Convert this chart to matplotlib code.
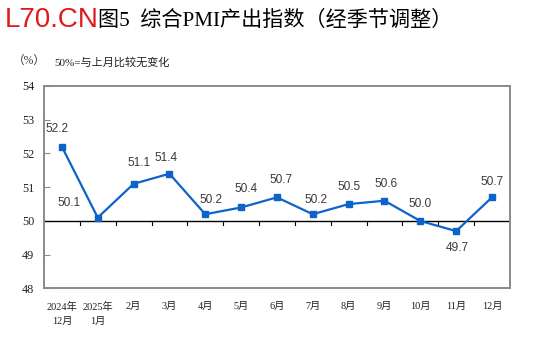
import matplotlib
matplotlib.use("Agg")
import matplotlib.pyplot as plt
import numpy as np

# Composite PMI output index, seasonally adjusted
months = ["2024年\n12月", "2025年\n1月", "2月", "3月", "4月", "5月", "6月",
          "7月", "8月", "9月", "10月", "11月", "12月"]
values = [52.2, 50.1, 51.1, 51.4, 50.2, 50.4, 50.7, 50.2, 50.5, 50.6, 50.0, 49.7, 50.7]
y_ticks = [48, 49, 50, 51, 52, 53, 54]

# label offsets in pixels relative to each point (dx, dy)
label_offsets = [(-5, 18), (-29, 15), (5, 21), (-3, 16), (6, 14), (5, 18), (4, 17),
                 (3, 14), (0, 17), (2, 17), (0, 17), (1, -17), (0, 15)]

CJK = ["Liberation Serif", "Noto Sans CJK SC"]
BLUE = "#0E63C9"
FRAME = "#8a8a8a"

fig = plt.figure(figsize=(5.39, 3.48), dpi=100)
ax = fig.add_axes([0.0816, 0.171, 0.8644, 0.582])

x = np.arange(len(values))
ax.plot(x, values, color=BLUE, lw=1.6, marker="s", markersize=4.2, zorder=3)
ax.axhline(50, color="black", lw=1.0, zorder=2)

ax.set_xlim(-0.5, len(values) - 0.5)
ax.set_ylim(48, 54)
ax.set_yticks(y_ticks)
ax.set_yticklabels([str(v) for v in y_ticks], family="Liberation Serif",
                   fontsize=8.8, color="#222222")
ax.tick_params(axis="y", direction="in", length=4, width=0.8, color=FRAME, pad=7)

# x ticks hidden; boundary ticks drawn on the 50 line
ax.set_xticks(x)
ax.set_xticklabels(months, fontsize=7.4, color="#222222", family=CJK,
                   linespacing=1.6, va="top")
ax.tick_params(axis="x", length=0, pad=10)
for b in np.arange(0.5, len(values) - 1, 1.0):
    ax.plot([b, b], [50, 49.87], color="black", lw=0.8, zorder=2)

for s in ax.spines.values():
    s.set_color(FRAME)
    s.set_linewidth(1.4)

for xi, v, (dx, dy) in zip(x, values, label_offsets):
    ax.annotate(f"{v:.1f}", (xi, v), xytext=(dx, dy), textcoords="offset pixels",
                ha="center", va="center", fontsize=8.6,
                family="Liberation Sans", color="#3a3a3a")

fig.text(0.009, 0.943, "L70.CN", color="#E0191B", fontsize=20,
         family="Liberation Sans", va="center", ha="left")
fig.text(0.182, 0.940, "图5  综合PMI产出指数（经季节调整）", fontsize=15.2,
         family=CJK, va="center", ha="left", color="black")
fig.text(0.024, 0.822, "（%）", fontsize=8.4, family=CJK, va="center",
         ha="left", color="#333333")
fig.text(0.100, 0.822, "50%=与上月比较无变化", fontsize=8.0, family=CJK,
         va="center", ha="left", color="#222222")

fig.savefig("out.png", dpi=100)
